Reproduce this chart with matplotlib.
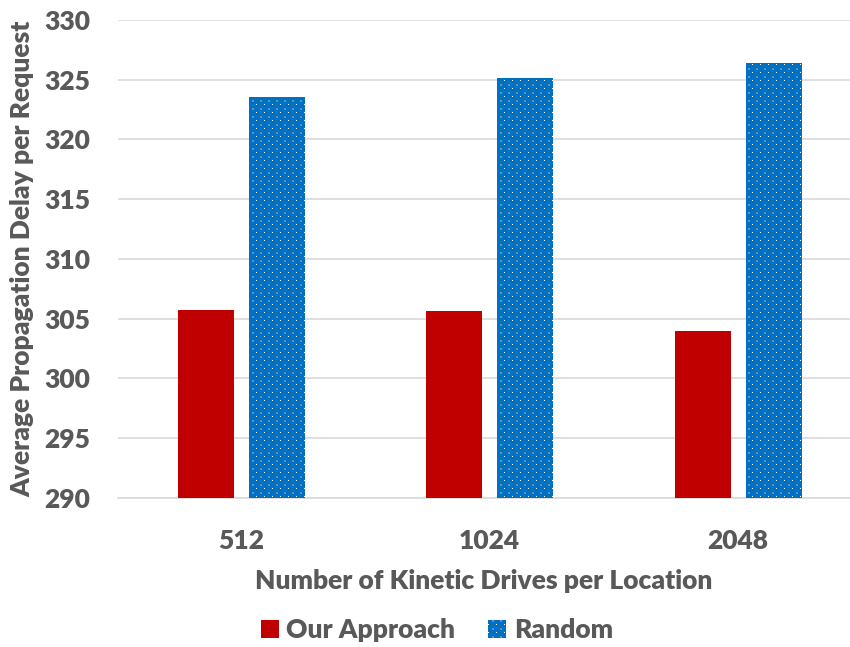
import numpy as np
import matplotlib
matplotlib.use("Agg")
import matplotlib.pyplot as plt
from matplotlib.patches import Patch

# Data
categories = ["512", "1024", "2048"]
our_approach = [305.75, 305.67, 303.96]
random_sel = [323.58, 325.14, 326.40]
series_names = ["Our Approach", "Random"]
y_ticks = [290, 295, 300, 305, 310, 315, 320, 325, 330]

RED = "#C00000"
BLUE = "#0070C0"
TEXT = "#595959"
GRID = "#D9D9D9"
FONT = "Lato"
WEIGHT = "heavy"
FS = 19

W, H = 850, 647
fig = plt.figure(figsize=(W / 100, H / 100), dpi=100)
ax = fig.add_axes([118 / W, 1 - 498 / H, (850 - 118) / W, (498 - 20) / H])

x = np.arange(len(categories))
bw = 0.2255
off = 0.143
bars_red = ax.bar(x - off, our_approach, bw, color=RED, zorder=2, linewidth=0)
bars_blue = ax.bar(x + off, random_sel, bw, color=BLUE, zorder=2, linewidth=0)

ax.set_xlim(-0.497, 2.451)
ax.set_ylim(290, 330)
ax.set_yticks(y_ticks)
ax.set_xticks(x)
ax.set_xticklabels(categories)

for s in ["top", "right", "left"]:
    ax.spines[s].set_visible(False)
ax.spines["bottom"].set_color(GRID)
ax.spines["bottom"].set_linewidth(1.2)
ax.spines["bottom"].set_zorder(1)
ax.yaxis.grid(True, color=GRID, linewidth=1.2, zorder=0)
ax.set_axisbelow(True)
ax.tick_params(axis="both", length=0, colors=TEXT, labelsize=FS)
ax.tick_params(axis="y", pad=20)
ax.tick_params(axis="x", pad=22)
for lab in ax.get_xticklabels() + ax.get_yticklabels():
    lab.set_fontfamily(FONT)
    lab.set_fontweight(WEIGHT)

ax.set_xlabel("Number of Kinetic Drives per Location", fontsize=FS,
              fontweight=WEIGHT, color=TEXT, family=FONT, labelpad=12)
fig.text(22 / W, 1 - 259 / H, "Average Propagation Delay per Request",
         rotation=90, ha="center", va="center", fontsize=FS,
         fontweight=WEIGHT, color=TEXT, family=FONT)

handles = [Patch(facecolor=RED, edgecolor="none"),
           Patch(facecolor=BLUE, edgecolor="none")]
leg = fig.legend(handles, series_names, loc="center",
                 bbox_to_anchor=(437 / W, 1 - 630 / H), ncol=2,
                 frameon=False, handlelength=0.68, handleheight=0.68,
                 handletextpad=0.3, columnspacing=1.25,
                 prop={"family": FONT, "weight": WEIGHT, "size": FS})
for t in leg.get_texts():
    t.set_color(TEXT)

# Dotted fill texture, limited to the visible parts of the "Random" bars
fig.canvas.draw()
renderer = fig.canvas.get_renderer()
yy, xx = np.mgrid[0:H, 0:W]
ydisp = H - yy - 0.5          # display y (from bottom) of each pixel row
xdisp = xx + 0.5
mask = np.zeros((H, W), dtype=bool)
regions = [b.get_window_extent(renderer) for b in bars_blue]
regions = [r.intersection(r, ax.bbox) for r in regions]
regions.append(leg.legend_handles[1].get_window_extent(renderer))
for r in regions:
    if r is None:
        continue
    mask |= ((xdisp >= r.x0) & (xdisp <= r.x1) &
             (ydisp >= r.y0) & (ydisp <= r.y1))

tex = np.zeros((H, W, 4))
light = ((yy % 8 >= 4) & (yy % 8 <= 5) & (xx % 8 >= 4) & (xx % 8 <= 5))
white = (yy % 8 == 0) & (xx % 8 == 0)
tex[light & mask] = [0.33, 0.58, 0.84, 1.0]
tex[white & mask] = [1.0, 1.0, 1.0, 1.0]
fig.figimage(tex, xo=0, yo=0, origin="upper", zorder=6)

fig.savefig("out.png", dpi=100)
